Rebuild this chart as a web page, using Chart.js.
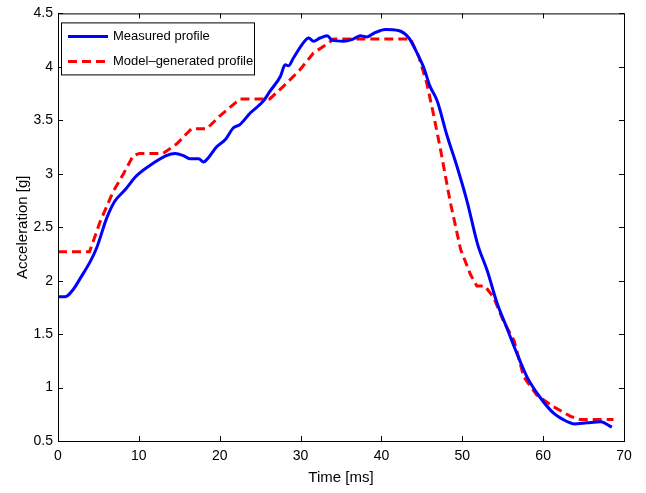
<!DOCTYPE html>
<html>
<head>
<meta charset="utf-8">
<script src="https://cdn.jsdelivr.net/npm/chart.js@4.4.0/dist/chart.umd.min.js"></script>
<style>
  html,body{margin:0;padding:0;background:#fff;}
  #wrap{width:646px;height:493px;position:relative;}
</style>
</head>
<body>
<div id="wrap"><canvas id="c" width="646" height="493"></canvas></div>
<script>
// measured acceleration profile (time in ms, accel in g)
const measuredT = [0,0.9,1.9,2.9,4.0,4.8,6.0,7.0,8.3,9.7,11.4,13.4,14.5,15.5,16.3,17.4,18.0,18.6,19.6,20.7,21.7,22.5,23.8,25.4,26.2,27.5,28.1,28.5,29.1,30.2,31.0,31.6,32.4,33.3,33.9,35.3,36.5,37.4,38.2,39.2,40.5,42.1,43.4,44.4,45.2,46.0,46.9,48.1,49.3,50.6,51.9,53.1,54.3,55.5,56.8,58.0,59.7,61.3,63.0,63.8,65.4,67.1,68.5];
const measuredA = [1.85,1.85,1.92,2.04,2.18,2.31,2.58,2.74,2.85,2.98,3.08,3.17,3.19,3.17,3.14,3.14,3.11,3.15,3.25,3.32,3.43,3.46,3.57,3.68,3.77,3.91,4.02,4.01,4.08,4.21,4.27,4.24,4.27,4.29,4.25,4.24,4.26,4.29,4.28,4.32,4.35,4.34,4.27,4.13,4.00,3.82,3.68,3.36,3.08,2.74,2.34,2.09,1.79,1.56,1.31,1.10,0.90,0.76,0.68,0.66,0.67,0.68,0.63];
// model-generated profile
const modelT = [0,3.9,5.2,6.8,8.1,9.3,10.1,13.0,14.7,16.5,18.4,20.0,22.5,25.5,26.2,27.9,29.9,31.6,33.0,34.1,43.6,44.6,45.6,46.4,47.3,48.5,49.8,51.0,51.8,52.8,53.9,55.1,56.4,57.6,59.2,61.3,63.4,64.6,68.7];
const modelA = [2.27,2.27,2.55,2.83,3.00,3.17,3.19,3.19,3.28,3.42,3.42,3.54,3.70,3.70,3.70,3.82,3.97,4.13,4.20,4.26,4.26,4.10,3.85,3.57,3.23,2.74,2.29,2.06,1.95,1.95,1.84,1.62,1.44,1.10,0.93,0.82,0.73,0.70,0.70];
const seriesNames = ['Measured profile','Model\u2013generated profile'];
const xTicks = [0,10,20,30,40,50,60,70];
const yTicks = [0.5,1,1.5,2,2.5,3,3.5,4,4.5];

const FONT = 'Liberation Sans, Arial, sans-serif';

function pts(t,a){ return t.map(function(x,i){ return {x:x,y:a[i]}; }); }

// box + inward tick marks, matlab style
const frame = {
  id:'frame',
  afterDraw(chart){
    const ctx=chart.ctx, a=chart.chartArea, xs=chart.scales.x, ys=chart.scales.y;
    ctx.save();
    ctx.strokeStyle='#000'; ctx.lineWidth=1;
    ctx.strokeRect(a.left+0.5,a.top+0.5,a.right-a.left,a.bottom-a.top);
    ctx.beginPath();
    xTicks.forEach(function(v){
      const px=Math.round(xs.getPixelForValue(v))+0.5;
      ctx.moveTo(px,a.bottom); ctx.lineTo(px,a.bottom-5);
      ctx.moveTo(px,a.top); ctx.lineTo(px,a.top+5);
    });
    yTicks.forEach(function(v){
      const py=Math.round(ys.getPixelForValue(v))+0.5;
      ctx.moveTo(a.left,py); ctx.lineTo(a.left+5,py);
      ctx.moveTo(a.right,py); ctx.lineTo(a.right-5,py);
    });
    ctx.stroke();
    // legend box
    const lx=a.left+3, ly=a.top+9, lw=193, lh=52;
    ctx.fillStyle='#fff'; ctx.fillRect(lx,ly,lw,lh);
    ctx.strokeRect(lx+0.5,ly+0.5,lw,lh);
    chart.data.datasets.forEach(function(ds,i){
      const yy=ly+14+i*25;
      ctx.beginPath();
      ctx.strokeStyle=ds.borderColor; ctx.lineWidth=3;
      ctx.setLineDash(ds.borderDash||[]);
      ctx.moveTo(lx+7,yy); ctx.lineTo(lx+47,yy); ctx.stroke();
      ctx.setLineDash([]);
      ctx.fillStyle='#000'; ctx.font='13px '+FONT; ctx.textBaseline='middle';
      ctx.fillText(ds.label,lx+52,yy);
    });
    ctx.restore();
  }
};

new Chart(document.getElementById('c'),{
  type:'line',
  data:{datasets:[
    {label:seriesNames[0],data:pts(measuredT,measuredA),borderColor:'#0000ff',borderWidth:3,pointRadius:0,cubicInterpolationMode:'monotone',fill:false},
    {label:seriesNames[1],data:pts(modelT,modelA),borderColor:'#ff0000',borderWidth:3,borderDash:[9,5],pointRadius:0,tension:0,fill:false}
  ]},
  options:{
    responsive:false, animation:false,
    layout:{padding:{top:10,right:22,left:0,bottom:0}},
    plugins:{legend:{display:false},tooltip:{enabled:false}},
    scales:{
      x:{type:'linear',min:0,max:70,
        afterBuildTicks:function(s){ s.ticks=xTicks.map(function(v){return {value:v};}); },
        afterFit:function(s){ s.height=52; },
        grid:{display:false,drawTicks:false},border:{display:false},
        ticks:{color:'#000',font:{family:FONT,size:14},padding:7,maxRotation:0,callback:function(v){return String(v);}},
        title:{display:true,text:'Time [ms]',color:'#000',font:{family:FONT,size:15},padding:{top:0,bottom:6}}},
      y:{type:'linear',min:0.5,max:4.5,
        afterBuildTicks:function(s){ s.ticks=yTicks.map(function(v){return {value:v};}); },
        afterFit:function(s){ s.width=58; },
        grid:{display:false,drawTicks:false},border:{display:false},
        ticks:{color:'#000',font:{family:FONT,size:14},padding:5,callback:function(v){return String(v);}},
        title:{display:true,text:'Acceleration [g]',color:'#000',font:{family:FONT,size:15},padding:{top:14,bottom:0}}}
    }
  },
  plugins:[frame]
});
</script>
</body>
</html>
